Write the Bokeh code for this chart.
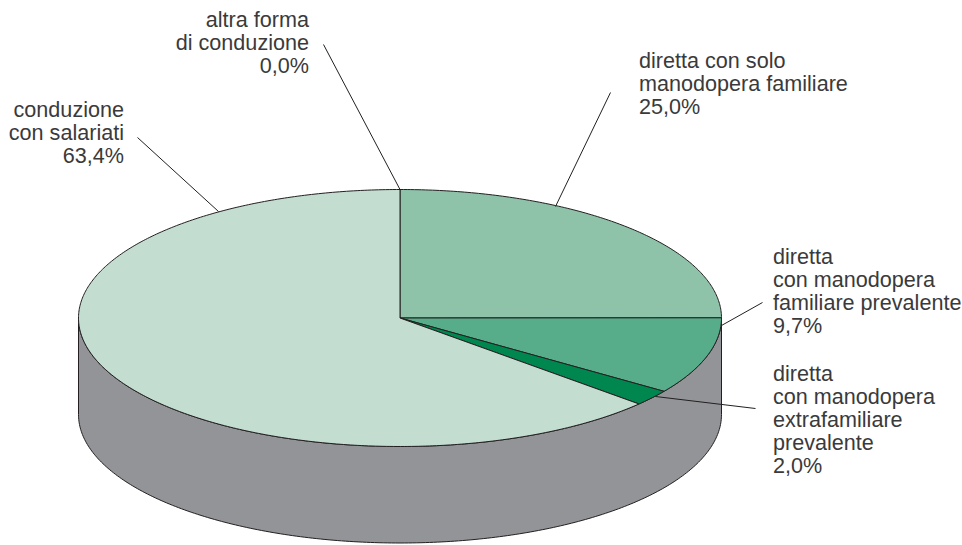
import numpy as np
from bokeh.plotting import figure
from bokeh.core.properties import value
from bokeh.embed import file_html
from bokeh.resources import INLINE

categories = ["altra forma di conduzione", "diretta con solo manodopera familiare",
              "diretta con manodopera familiare prevalente",
              "diretta con manodopera extrafamiliare prevalente", "conduzione con salariati"]
shares = [0.0, 25.0, 9.7, 2.0, 63.4]
colors = ["#c3ddd0", "#8ec3aa", "#57ac8a", "#00874f", "#c3ddd0"]
side_color = "#929497"
edge = "#231f20"
text_color = "#3a3a3a"
label_lines = [
    ["altra forma", "di conduzione", "0,0%"],
    ["diretta con solo", "manodopera familiare", "25,0%"],
    ["diretta", "con manodopera", "familiare prevalente", "9,7%"],
    ["diretta", "con manodopera", "extrafamiliare", "prevalente", "2,0%"],
    ["conduzione", "con salariati", "63,4%"],
]
label_x = [308.5, 638.5, 772.5, 772.5, 123.5]
label_top = [19, 60, 256, 373, 109]
label_align = ["right", "left", "left", "left", "right"]
leader_x = [[323, 399.5], [610, 555], [762, 721], [755, 655], [137, 218]]
leader_y = [[44, 189], [92, 206], [302, 325], [408, 396], [137, 211]]

cx, cy, rx, ry, depth = 399.5, 317.5, 321.5, 128.5, 96.5
line_step = 23.0
font_px = "21.6px"

p = figure(width=962, height=545, x_range=(0, 962), y_range=(545, 0),
           toolbar_location=None, output_backend="svg", min_border=0,
           outline_line_color=None, background_fill_color="white")
p.axis.visible = False
p.grid.visible = False

# visible side wall
t = np.linspace(0, np.pi, 241)
wx = cx + rx * np.cos(t)
wy = cy + ry * np.sin(t)
p.patch(np.r_[wx, wx[::-1]], np.r_[wy + depth, wy[::-1]], fill_color=side_color,
        line_color=edge, line_width=1)

# top slices, clockwise from twelve o'clock
ends = np.cumsum(shares) / sum(shares) * 2 * np.pi
starts = np.r_[0, ends[:-1]]
for a0, a1, c in zip(starts, ends, colors):
    if a1 <= a0:
        continue
    a = np.linspace(a0, a1, max(3, int((a1 - a0) * 90)))
    p.patch(np.r_[cx, cx + rx * np.sin(a)], np.r_[cy, cy - ry * np.cos(a)],
            fill_color=c, line_color=edge, line_width=1)

for lx, ly in zip(leader_x, leader_y):
    p.line(lx, ly, line_color=edge, line_width=1)

for lines, x, top, al in zip(label_lines, label_x, label_top, label_align):
    ys = [top + i * line_step for i in range(len(lines))]
    p.text([x] * len(lines), ys, text=lines, text_align=al, text_baseline="middle",
           text_font=value("Liberation Sans"), text_font_size=font_px, text_color=text_color)

open("out.html", "w").write(file_html(p, INLINE))
